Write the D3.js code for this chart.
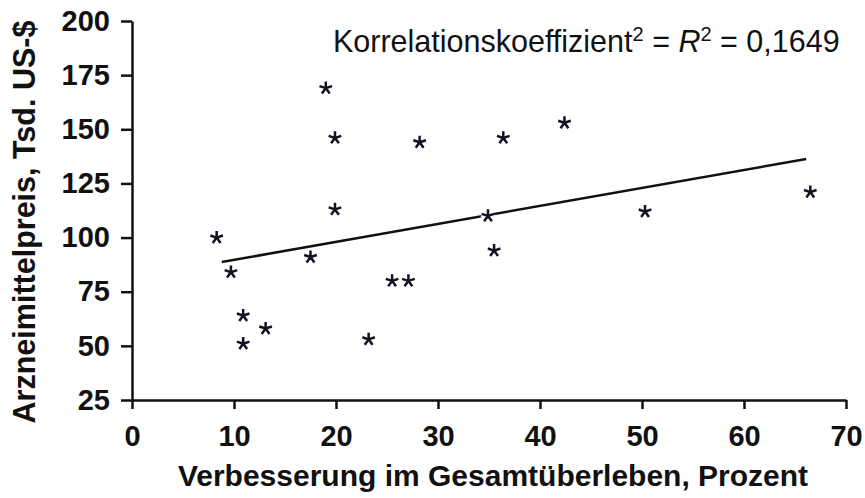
<!DOCTYPE html>
<html>
<head>
<meta charset="utf-8">
<script src="https://cdn.jsdelivr.net/npm/d3@7"></script>
<style>
  html, body { margin: 0; padding: 0; background: #fff; }
  svg { display: block; }
  text { font-family: "Liberation Sans", Arial, sans-serif; }
</style>
</head>
<body>
<div id="chart"></div>
<script>
// ---- data ----
const improvement = [8.3, 9.7, 10.9, 10.9, 13.1, 17.5, 19.0, 19.9, 19.9, 23.2, 25.5, 27.1, 28.2, 34.9, 35.5, 36.4, 42.4, 50.3, 66.5];
const price       = [100, 84, 64, 51, 58, 91, 169, 146, 113, 53, 80, 80, 144, 110, 94, 146, 153, 112, 121];
const trendX = [8.8, 66.1];
const trendY = [88.7, 136.3];
const xTicks = [0, 10, 20, 30, 40, 50, 60, 70];
const yTicks = [25, 50, 75, 100, 125, 150, 175, 200];
const xTitle = "Verbesserung im Gesamtüberleben, Prozent";
const yTitle = "Arzneimittelpreis, Tsd. US-$";
const r2Label = "0,1649";

// ---- layout ----
const W = 865, H = 498;
const margin = { top: 21, right: 19, bottom: 98, left: 132 };

const svg = d3.select("#chart").append("svg")
  .attr("width", W).attr("height", H);

const x = d3.scaleLinear().domain([0, 70]).range([margin.left, W - margin.right]);
const y = d3.scaleLinear().domain([25, 200]).range([H - margin.bottom, margin.top]);

// axes
const gx = svg.append("g")
  .attr("transform", `translate(0,${H - margin.bottom})`)
  .call(d3.axisBottom(x).tickValues(xTicks).tickFormat(d3.format("d"))
    .tickSizeInner(9).tickSizeOuter(0).tickPadding(16));
const gy = svg.append("g")
  .attr("transform", `translate(${margin.left},0)`)
  .call(d3.axisLeft(y).tickValues(yTicks).tickFormat(d3.format("d"))
    .tickSizeInner(11).tickSizeOuter(0).tickPadding(11));

[gx, gy].forEach(g => {
  g.selectAll("path.domain, line").attr("stroke", "#111").attr("stroke-width", 2.5);
  g.selectAll("text").attr("fill", "#111")
    .style("font-size", "29px").style("font-weight", "bold");
});

// axis titles
svg.append("text")
  .attr("x", 493).attr("y", 486)
  .attr("text-anchor", "middle")
  .style("font-size", "30px").style("font-weight", "bold").attr("fill", "#111")
  .text(xTitle);

svg.append("text")
  .attr("transform", `translate(35,222) rotate(-90)`)
  .attr("text-anchor", "middle")
  .style("font-size", "30.5px").style("font-weight", "bold").attr("fill", "#111")
  .text(yTitle);

// regression line
const line = d3.line().x(d => x(d[0])).y(d => y(d[1]));
svg.append("path")
  .datum(d3.zip(trendX, trendY))
  .attr("d", line)
  .attr("fill", "none").attr("stroke", "#111").attr("stroke-width", 2.5);

// asterisk symbol (5 arms)
const asterisk = {
  draw(context, size) {
    const r = Math.sqrt(size);
    for (let i = 0; i < 5; i++) {
      const a = -Math.PI / 2 + i * 2 * Math.PI / 5;
      context.moveTo(0, 0);
      context.lineTo(r * Math.cos(a), r * Math.sin(a));
    }
  }
};
const sym = d3.symbol().type(asterisk).size(44);
const pts = d3.zip(improvement, price);

svg.append("g").selectAll("path").data(pts).join("path")
  .attr("transform", d => `translate(${x(d[0])},${y(d[1])})`)
  .attr("d", sym)
  .attr("fill", "none").attr("stroke", "#fff").attr("stroke-width", 7);
svg.append("g").selectAll("path").data(pts).join("path")
  .attr("transform", d => `translate(${x(d[0])},${y(d[1])})`)
  .attr("d", sym)
  .attr("fill", "none").attr("stroke", "#111122").attr("stroke-width", 2.5)
  .attr("stroke-linecap", "butt");

// annotation
const ann = svg.append("text")
  .attr("x", 333).attr("y", 52)
  .style("font-size", "30.5px").attr("fill", "#111");
ann.append("tspan").text("Korrelationskoeffizient");
ann.append("tspan").attr("dy", -11).style("font-size", "20px").text("2");
ann.append("tspan").attr("dy", 11).text(" = ");
ann.append("tspan").style("font-style", "italic").text("R");
ann.append("tspan").attr("dy", -11).style("font-size", "20px").text("2");
ann.append("tspan").attr("dy", 11).text(" = " + r2Label);
</script>
</body>
</html>
